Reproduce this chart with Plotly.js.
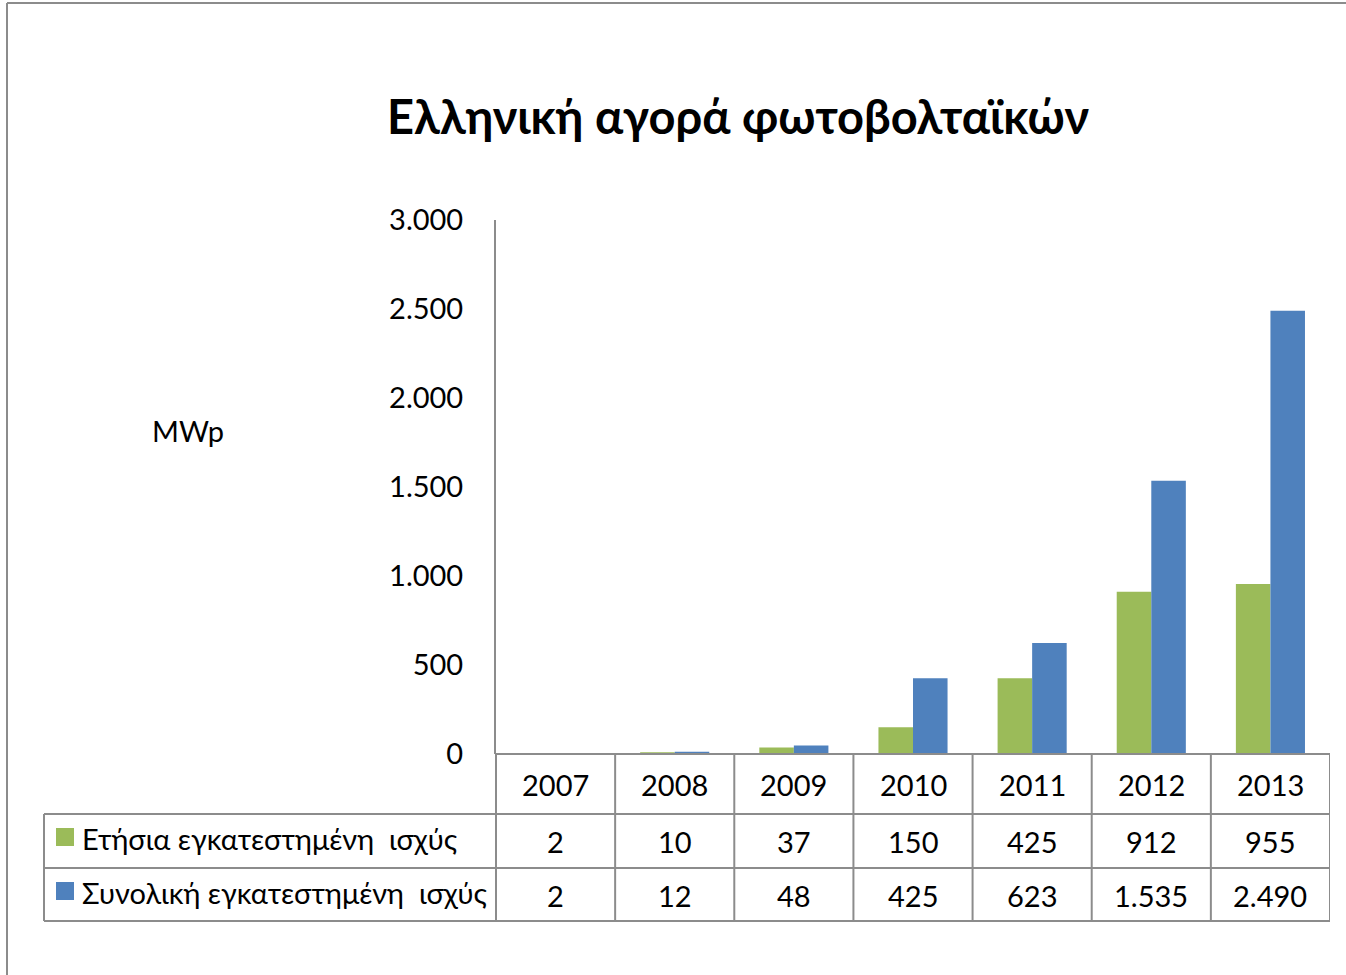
<!DOCTYPE html>
<html>
<head>
<meta charset="utf-8">
<script src="https://cdn.plot.ly/plotly-3.0.1.min.js"></script>
<style>html,body{margin:0;padding:0;background:#fff;}#chart{width:1346px;height:975px;}</style>
</head>
<body>
<div id="chart"></div>
<script>
const years = ['2007','2008','2009','2010','2011','2012','2013'];
const annual = [2, 10, 37, 150, 425, 912, 955];
const cumulative = [2, 12, 48, 425, 623, 1535, 2490];
const seriesNames = ['Ετήσια εγκατεστημένη  ισχύς', 'Συνολική εγκατεστημένη  ισχύς'];
const tickVals = [0, 500, 1000, 1500, 2000, 2500, 3000];
const titleText = 'Ελληνική αγορά φωτοβολταϊκών';
const yLabel = 'MWp';

const W = 1346, H = 975;
const L = 496, R = 1330, T = 220, B = 754;
const xp = px => (px - L) / (R - L);
const yp = py => (B - py) / (B - T);
const FONT = 'Lato, "Open Sans", sans-serif';
const FS = 29;
const green = '#9BBB59', blue = '#4F81BD', gray = '#8C8C8C';

const rowY = [814, 868, 921];
const headCenter = 784, rowCenters = [841, 895];

const shapes = [];
const line = (x0, y0, x1, y1, xref, yref) => shapes.push({type:'line', xref:xref||'paper', yref:yref||'paper', x0, y0, x1, y1, line:{color:gray, width:2}});
// outer chart border (top and left)
line(xp(7), yp(3), xp(W), yp(3));
line(xp(7), yp(3), xp(7), yp(H));
// table horizontal lines
line(xp(L), yp(B), xp(R), yp(B));
rowY.forEach(y => line(xp(44), yp(y), xp(R), yp(y)));
// table vertical lines
line(xp(44), yp(rowY[0]), xp(44), yp(rowY[2]));
line(xp(L), yp(B), xp(L), yp(rowY[2]));
years.forEach((y, i) => shapes.push({type:'line', xref:'x', yref:'paper', x0:i+0.5, x1:i+0.5, y0:yp(B), y1:yp(rowY[2]), line:{color:gray, width:2}}));
// legend keys
[green, blue].forEach((c, i) => shapes.push({type:'rect', xref:'paper', yref:'paper', x0:xp(56), x1:xp(74), y0:yp(rowCenters[i]-13), y1:yp(rowCenters[i]+5), fillcolor:c, line:{width:0}}));

const fmt = v => v.toString().replace(/\B(?=(\d{3})+(?!\d))/g, '.');
const annotations = [];
years.forEach((y, i) => {
  annotations.push({xref:'x', yref:'paper', x:i, y:yp(headCenter), text:y, showarrow:false, font:{family:FONT, size:FS, color:'#000'}, xanchor:'center', yanchor:'middle'});
  [annual, cumulative].forEach((arr, r) => annotations.push({xref:'x', yref:'paper', x:i, y:yp(rowCenters[r]), text:fmt(arr[i]), showarrow:false, font:{family:FONT, size:FS, color:'#000'}, xanchor:'center', yanchor:'middle'}));
});
seriesNames.forEach((n, r) => annotations.push({xref:'paper', yref:'paper', x:xp(80), y:yp(rowCenters[r] - 3), text:n, showarrow:false, font:{family:FONT, size:FS, color:'#000'}, xanchor:'left', yanchor:'middle'}));
annotations.push({xref:'paper', yref:'paper', x:xp(188), y:yp(430), text:yLabel, showarrow:false, font:{family:FONT, size:FS, color:'#000'}, xanchor:'center', yanchor:'middle'});

const data = [
  {type:'bar', x:years, y:annual, name:seriesNames[0], marker:{color:green}},
  {type:'bar', x:years, y:cumulative, name:seriesNames[1], marker:{color:blue}}
];

const layout = {
  width: W, height: H,
  margin: {l: L, r: W - R, t: T, b: H - B, pad: 0},
  paper_bgcolor: '#fff', plot_bgcolor: '#fff',
  separators: ',.',
  showlegend: false,
  barmode: 'group',
  bargap: 0.42, bargroupgap: 0,
  title: {text: '<b>' + titleText + '</b>', x: xp(738), xref:'paper', xanchor:'center', y: 1 - 118 / H, yanchor:'middle', font: {family: FONT, size: 47, color: '#000'}},
  xaxis: {type:'category', showticklabels:false, ticks:'', showgrid:false, zeroline:false, showline:false, range:[-0.5, 6.5], fixedrange:true},
  yaxis: {range:[0, 3000], tickvals:tickVals, tickformat:',d', showgrid:false, zeroline:false, showline:true, linecolor:gray, linewidth:2, ticks:'', ticklabelstandoff:25, tickfont:{family:FONT, size:FS, color:'#000'}, fixedrange:true},
  shapes, annotations,
  font: {family: FONT}
};
Plotly.newPlot('chart', data, layout, {displayModeBar:false, staticPlot:true});
</script>
</body>
</html>
